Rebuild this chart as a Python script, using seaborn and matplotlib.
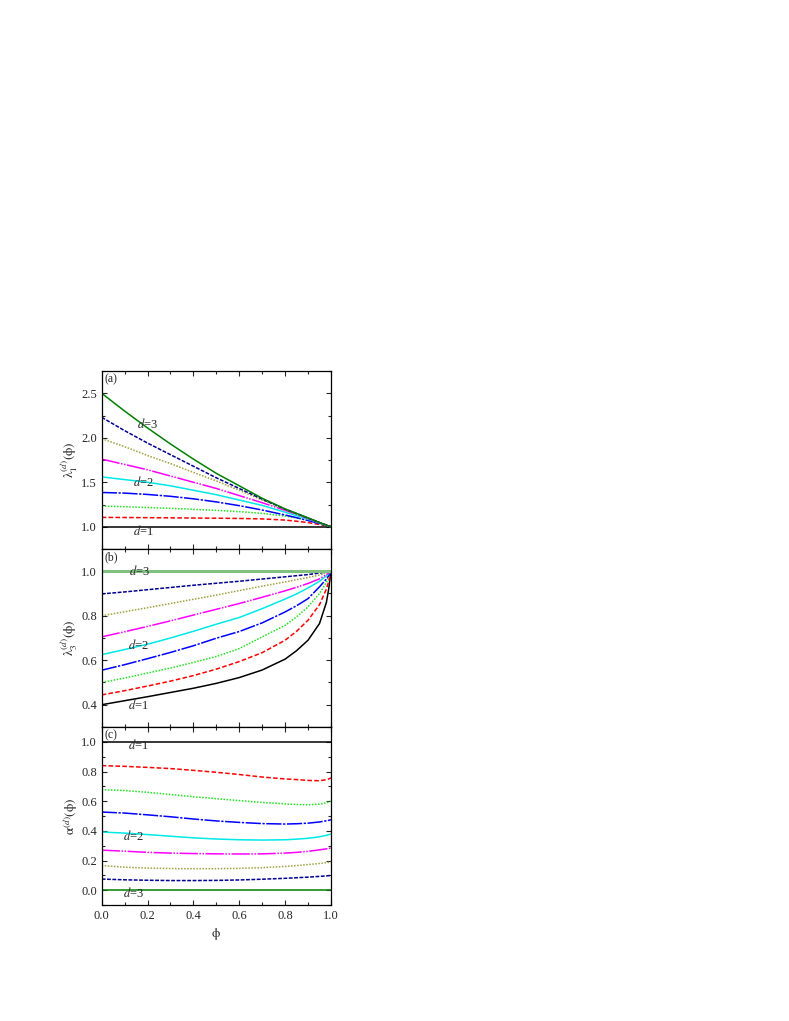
import numpy as np
import pandas as pd
import matplotlib
matplotlib.use("Agg")
import matplotlib.pyplot as plt
from matplotlib.ticker import MultipleLocator
import seaborn as sns

# phi grid
phi = [0.0, 0.1, 0.2, 0.3, 0.4, 0.5, 0.6, 0.7, 0.8, 0.85, 0.9, 0.95, 0.98, 0.99, 1.0]

d_values = [1.0, 1.25, 1.5, 1.75, 2.0, 2.25, 2.5, 2.75, 3.0]

# panel (a): lambda_1
lam1_d100 = [1.0] * 15
lam1_d125 = [1.105, 1.104, 1.102, 1.100, 1.098, 1.096, 1.093, 1.088, 1.075, 1.062, 1.047, 1.025, 1.010, 1.005, 1.0]
lam1_d150 = [1.232, 1.225, 1.216, 1.207, 1.196, 1.184, 1.170, 1.150, 1.120, 1.099, 1.073, 1.040, 1.016, 1.008, 1.0]
lam1_d175 = [1.385, 1.378, 1.363, 1.342, 1.314, 1.279, 1.237, 1.188, 1.132, 1.102, 1.070, 1.036, 1.014, 1.007, 1.0]
lam1_d200 = [1.56, 1.53, 1.50, 1.46, 1.41, 1.36, 1.30, 1.24, 1.163, 1.125, 1.085, 1.043, 1.017, 1.008, 1.0]
lam1_d225 = [1.76, 1.70, 1.64, 1.57, 1.50, 1.43, 1.35, 1.27, 1.184, 1.139, 1.092, 1.045, 1.018, 1.009, 1.0]
lam1_d250 = [1.99, 1.90, 1.80, 1.71, 1.61, 1.515, 1.41, 1.30, 1.192, 1.143, 1.094, 1.046, 1.018, 1.009, 1.0]
lam1_d275 = [2.23, 2.08, 1.94, 1.81, 1.68, 1.55, 1.43, 1.31, 1.198, 1.148, 1.097, 1.048, 1.019, 1.009, 1.0]
lam1_d300 = [2.50, 2.30, 2.11, 1.93, 1.76, 1.60, 1.46, 1.32, 1.20, 1.15, 1.10, 1.047, 1.018, 1.009, 1.0]

# panel (b): lambda_3
lam3_d100 = [0.400, 0.418, 0.436, 0.455, 0.474, 0.496, 0.522, 0.556, 0.605, 0.643, 0.690, 0.765, 0.860, 0.920, 1.0]
lam3_d125 = [0.444, 0.463, 0.484, 0.506, 0.531, 0.560, 0.594, 0.634, 0.690, 0.730, 0.780, 0.850, 0.920, 0.955, 1.0]
lam3_d150 = [0.500, 0.520, 0.542, 0.565, 0.590, 0.617, 0.652, 0.705, 0.757, 0.795, 0.840, 0.900, 0.950, 0.975, 1.0]
lam3_d175 = [0.555, 0.580, 0.607, 0.635, 0.665, 0.699, 0.729, 0.768, 0.817, 0.845, 0.877, 0.930, 0.965, 0.980, 1.0]
lam3_d200 = [0.625, 0.648, 0.672, 0.700, 0.730, 0.762, 0.792, 0.832, 0.875, 0.898, 0.925, 0.955, 0.980, 0.990, 1.0]
lam3_d225 = [0.705, 0.728, 0.752, 0.777, 0.803, 0.829, 0.855, 0.883, 0.912, 0.928, 0.945, 0.966, 0.985, 0.992, 1.0]
lam3_d250 = [0.800, 0.818, 0.836, 0.855, 0.874, 0.893, 0.913, 0.933, 0.952, 0.962, 0.972, 0.983, 0.993, 0.996, 1.0]
lam3_d275 = [0.898, 0.907, 0.917, 0.927, 0.937, 0.946, 0.955, 0.965, 0.975, 0.980, 0.985, 0.992, 0.997, 0.998, 1.0]
lam3_d300 = [1.0] * 15

# panel (c): alpha
alpha_d100 = [1.0] * 15
alpha_d125 = [0.840, 0.835, 0.828, 0.820, 0.808, 0.795, 0.780, 0.763, 0.750, 0.746, 0.740, 0.738, 0.745, 0.750, 0.757]
alpha_d150 = [0.678, 0.672, 0.660, 0.645, 0.630, 0.617, 0.604, 0.592, 0.582, 0.578, 0.576, 0.580, 0.590, 0.594, 0.600]
alpha_d175 = [0.527, 0.520, 0.508, 0.495, 0.480, 0.467, 0.457, 0.449, 0.446, 0.448, 0.452, 0.460, 0.468, 0.471, 0.475]
alpha_d200 = [0.392, 0.385, 0.375, 0.364, 0.353, 0.345, 0.340, 0.338, 0.340, 0.344, 0.350, 0.360, 0.370, 0.374, 0.378]
alpha_d225 = [0.270, 0.263, 0.255, 0.250, 0.247, 0.245, 0.244, 0.245, 0.250, 0.255, 0.262, 0.272, 0.279, 0.282, 0.284]
alpha_d250 = [0.166, 0.155, 0.149, 0.146, 0.145, 0.145, 0.147, 0.152, 0.160, 0.166, 0.173, 0.180, 0.186, 0.188, 0.190]
alpha_d275 = [0.075, 0.070, 0.067, 0.065, 0.065, 0.066, 0.069, 0.074, 0.080, 0.084, 0.088, 0.093, 0.096, 0.098, 0.099]
alpha_d300 = [0.0] * 15

panel_a = [lam1_d100, lam1_d125, lam1_d150, lam1_d175, lam1_d200, lam1_d225, lam1_d250, lam1_d275, lam1_d300]
panel_b = [lam3_d100, lam3_d125, lam3_d150, lam3_d175, lam3_d200, lam3_d225, lam3_d250, lam3_d275, lam3_d300]
panel_c = [alpha_d100, alpha_d125, alpha_d150, alpha_d175, alpha_d200, alpha_d225, alpha_d250, alpha_d275, alpha_d300]

colors = ["#000000", "#ff0000", "#22e022", "#0000ff", "#00e8e8", "#ff00ff", "#a0a040", "#000090", "#008000"]
styles = ["-", (0, (3, 1.5)), (0, (1, 1)), (0, (10, 1, 1.5, 1)), "-", (0, (12, 1, 1, 1, 1, 1)),
          (0, (1, 1)), (0, (2.5, 1)), "-"]

sns.set_style("ticks")
plt.rcParams["font.family"] = ["Liberation Serif", "DejaVu Serif"]
plt.rcParams["mathtext.fontset"] = "stix"
plt.rcParams["font.size"] = 8

fig = plt.figure(figsize=(7.89, 10.21), dpi=100)
left, width, height = 0.1289, 0.2906, 0.1743
bottoms = [0.4623, 0.2880, 0.1136]
axes = [fig.add_axes([left, b, width, height]) for b in bottoms]

panels = [panel_a, panel_b, panel_c]
for ax, curves in zip(axes, panels):
    for i, (d, vals) in enumerate(zip(d_values, curves)):
        df = pd.DataFrame({"phi": phi, "val": vals})
        col, lw = colors[i], 1.1
        if curves is panel_b and d == 3.0:
            col, lw = "#80c080", 2.2
        sns.lineplot(data=df, x="phi", y="val", ax=ax, color=col, linestyle=styles[i],
                     linewidth=lw, estimator=None, legend=False)

ylims = [(0.75, 2.75), (0.3, 1.1), (-0.1, 1.1)]
ymajor = [0.5, 0.2, 0.2]
yminor = [0.25, 0.1, 0.1]
ylabels = [r"$\mathrm{\lambda}_1^{(d)}(\mathrm{\phi})$", r"$\mathrm{\lambda}_3^{(d)}(\mathrm{\phi})$",
           r"$\mathrm{\alpha}^{(d)}(\mathrm{\phi})$"]
tags = ["(a)", "(b)", "(c)"]

for k, ax in enumerate(axes):
    ax.set_xlim(0, 1)
    ax.set_ylim(*ylims[k])
    ax.xaxis.set_major_locator(MultipleLocator(0.2))
    ax.xaxis.set_minor_locator(MultipleLocator(0.1))
    ax.yaxis.set_major_locator(MultipleLocator(ymajor[k]))
    ax.yaxis.set_minor_locator(MultipleLocator(yminor[k]))
    ax.yaxis.set_major_formatter(plt.FormatStrFormatter("%.1f"))
    ax.xaxis.set_major_formatter(plt.FormatStrFormatter("%.1f"))
    ax.tick_params(which="both", direction="in", top=True, right=True, width=0.8, labelsize=9)
    ax.tick_params(which="major", length=3.5)
    ax.tick_params(which="minor", length=2)
    for sp in ax.spines.values():
        sp.set_linewidth(0.9)
        sp.set_color("black")
    ax.set_ylabel(ylabels[k], fontsize=9.5)
    ax.yaxis.set_label_coords(-0.095, 0.5)
    ax.set_xlabel("")
    ax.text(0.012, 0.985, tags[k], transform=ax.transAxes, ha="left", va="top", fontsize=8.5)
    if k < 2:
        ax.tick_params(labelbottom=False)

axes[2].set_xlabel(r"$\mathrm{\phi}$", fontsize=9.5)
axes[2].xaxis.set_label_coords(0.5, -0.12)

# curve annotations
for ax, x, y, s in [(axes[0], 0.20, 2.155, "3"), (axes[0], 0.18, 1.50, "2"), (axes[0], 0.18, 0.95, "1"),
                    (axes[1], 0.165, 1.0, "3"), (axes[1], 0.16, 0.67, "2"), (axes[1], 0.16, 0.40, "1"),
                    (axes[2], 0.16, 0.98, "1"), (axes[2], 0.14, 0.362, "2"), (axes[2], 0.14, -0.016, "3")]:
    ax.text(x, y, r"$d$=" + s, ha="center", va="center", fontsize=9)

fig.savefig("out.png", dpi=100)
